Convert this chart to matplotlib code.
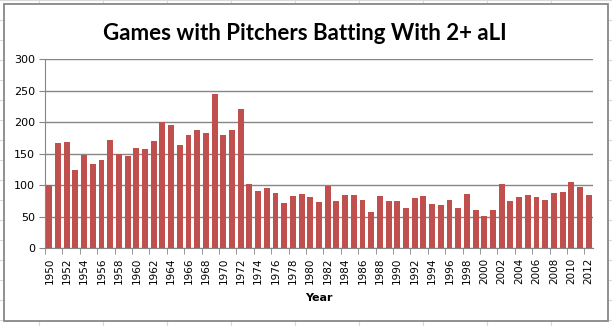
import matplotlib.pyplot as plt
from matplotlib.lines import Line2D
from matplotlib.patches import Rectangle
import numpy as np

# games per season with a pitcher batting at 2+ aLI
years = list(range(1950, 2013))
games = [100, 167, 168, 124, 148, 133, 140, 172, 150, 146,
         159, 157, 170, 200, 195, 164, 180, 187, 183, 245,
         180, 187, 221, 102, 91, 95, 87, 72, 83, 86,
         81, 73, 99, 75, 84, 84, 76, 57, 83, 75,
         75, 64, 80, 83, 70, 68, 76, 64, 86, 60,
         51, 60, 102, 75, 81, 84, 81, 76, 87, 89,
         105, 97, 84]
yticks = [0, 50, 100, 150, 200, 250, 300]

W, H = 612, 326
fig = plt.figure(figsize=(W / 100, H / 100), dpi=100)

# spreadsheet cell lines behind the chart object
for x in range(39, W, 64):
    fig.add_artist(Line2D([x / W, x / W], [0, 1], color='#d9d9d9', lw=0.8, zorder=-3))
for y in range(0, H, 20):
    fig.add_artist(Line2D([0, 1], [1 - y / H, 1 - y / H], color='#d9d9d9', lw=0.8, zorder=-3))

# chart area with border
fig.add_artist(Rectangle((4 / W, 1 - 321 / H), 604 / W, 317 / H, facecolor='white',
                         edgecolor='#878787', lw=1.3, transform=fig.transFigure, zorder=-2))

ax = fig.add_axes([45 / W, 1 - 248 / H, 548 / W, 188.7 / H])
ax.set_zorder(1)
ax.patch.set_alpha(0)
x = np.arange(len(years))
ax.bar(x, games, width=0.68, color='#c0504d', zorder=3)

ax.set_xlim(-0.5, len(years) - 0.5)
ax.set_ylim(0, 300)
ax.set_yticks(yticks)
ax.set_yticklabels([str(v) for v in yticks], fontsize=8)
ax.grid(axis='y', color='#868686', lw=1.0, zorder=0)
ax.tick_params(axis='y', length=4, color='#868686', pad=3)

# year labels every other season, ticks between category pairs
ax.set_xticks(x[::2])
ax.set_xticklabels([str(y) for y in years[::2]], rotation=90, fontsize=7.5)
ax.set_xticks(np.arange(-0.5, len(years), 2), minor=True)
ax.tick_params(axis='x', which='major', length=0, pad=7)
ax.tick_params(axis='x', which='minor', length=4, color='#868686')

for s in ['top', 'right']:
    ax.spines[s].set_visible(False)
for s in ['left', 'bottom']:
    ax.spines[s].set_color('#868686')

ax.set_xlabel('Year', fontsize=8, fontweight='bold', labelpad=6)
fig.text(305 / W, 1 - 34 / H, 'Games with Pitchers Batting With 2+ aLI',
         ha='center', va='center', fontsize=16, fontweight='bold', family='Lato')

fig.savefig('out.png', dpi=100)
